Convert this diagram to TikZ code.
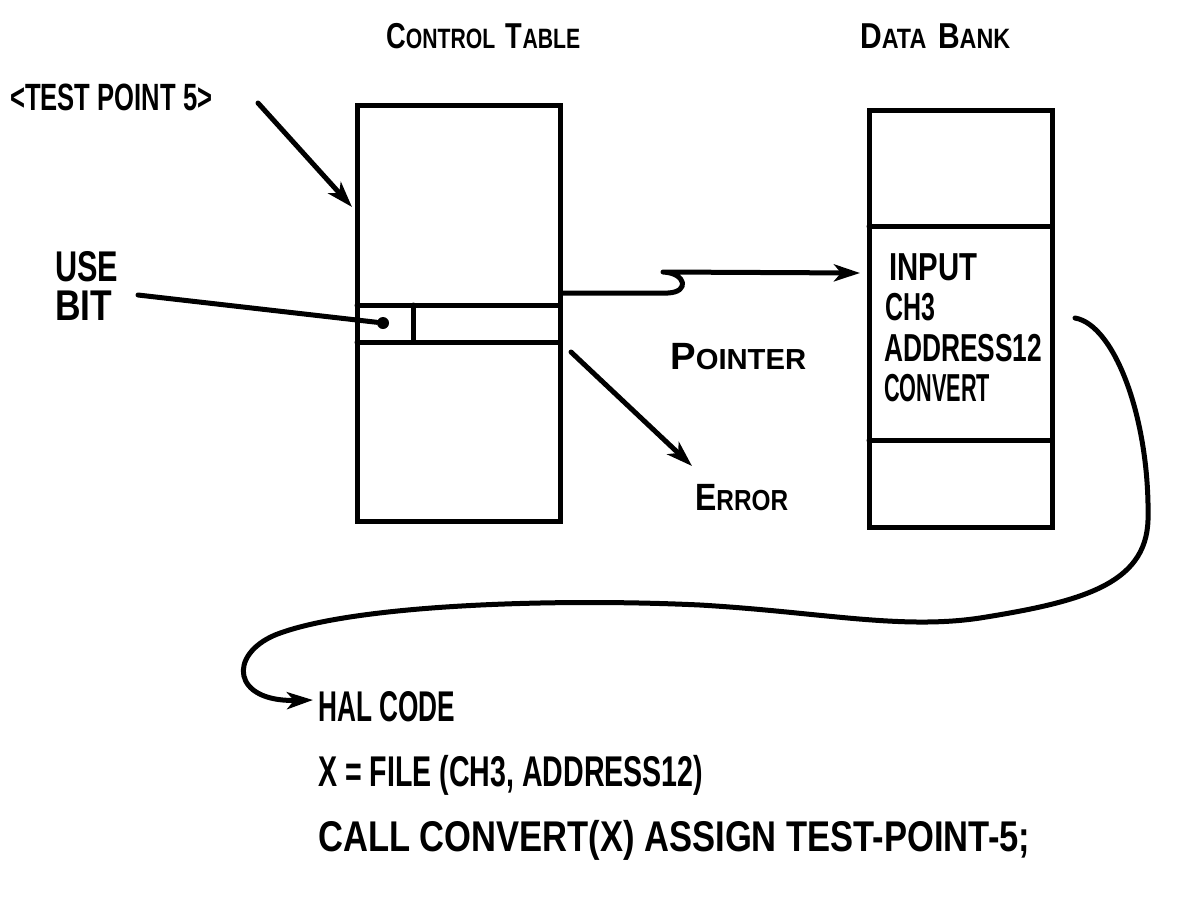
\documentclass[tikz,border=0pt]{standalone}
\usepackage{fontspec}
\usepackage{graphicx}
\setmainfont{Liberation Sans}
\usetikzlibrary{arrows.meta}

% set a text to a given width (pt), keeping its height
\newcommand{\fitw}[2]{\resizebox{#1pt}{\height}{#2}}
% hand-lettered small capitals: large initial, smaller rest
\newcommand{\capsm}[2]{{\fontsize{36}{36}\selectfont #1}{\fontsize{28}{28}\selectfont #2}}

\begin{document}
\begin{tikzpicture}[x=1pt,y=-1pt,
  ln/.style={line width=5pt, line join=round, line cap=round},
  tip/.style={-{Stealth[length=26pt,width=17pt,inset=7pt]}},
  txt/.style={anchor=base west, inner sep=0pt, font=\fontsize{43}{43}\selectfont\bfseries},
  dbtxt/.style={txt, font=\fontsize{39}{39}\selectfont\bfseries},
  ttl/.style={anchor=base west, inner sep=0pt, font=\bfseries},
  box/.style={draw, line width=5pt, inner sep=0pt, fill=none},
  dotmark/.style={circle, fill=black, inner sep=0pt, minimum size=12pt}]

\useasboundingbox (0,0) rectangle (1201,900);
\fill[white] (0,0) rectangle (1201,900);

% headings
\node[ttl] (cthead) at (386,48) {\fitw{194}{\capsm{C}{ONTROL}\hspace{14pt}\capsm{T}{ABLE}}};
\node[ttl] (dbhead) at (860,48) {\fitw{150}{\capsm{D}{ATA}\hspace{14pt}\capsm{B}{ANK}}};

% control table
\node[box, minimum width=203pt, minimum height=416pt] (ctab) at (458.5,313) {};
\draw[ln] (357,305) -- (560,305);
\draw[ln] (357,342) -- (560,342);
\draw[ln] (413,305) -- (413,342);
\node[dotmark] (usebit) at (383,323) {};

% data bank
\node[box, minimum width=183pt, minimum height=417pt] (dbank) at (960.5,318.5) {};
\draw[ln] (869,226) -- (1052,226);
\draw[ln] (869,440) -- (1052,440);
\node[dbtxt] (input) at (889,280) {\fitw{88}{INPUT}};
\node[dbtxt] (chan)  at (885,320) {\fitw{50}{CH3}};
\node[dbtxt] (addr)  at (884,361) {\fitw{158}{ADDRESS12}};
\node[dbtxt] (conv)  at (884,401) {\fitw{106}{CONVERT}};

% side labels
\node[txt, font=\fontsize{38}{38}\selectfont\bfseries] (tp) at (10,110) {\fitw{202}{<TEST POINT 5>}};
\node[txt] (use) at (55,281) {\fitw{63}{USE}};
\node[txt] (bit) at (55,320) {\fitw{57}{BIT}};
\node[ttl] (ptr) at (670,369) {\fitw{136}{{\fontsize{38}{38}\selectfont P}{\fontsize{29}{29}\selectfont OINTER}}};
\node[ttl] (err) at (695,510) {\fitw{93}{{\fontsize{38}{38}\selectfont E}{\fontsize{29}{29}\selectfont RROR}}};

% HAL code
\node[txt] (hal)  at (318,721) {\fitw{137}{HAL CODE}};
\node[txt] (hal2) at (318,786) {\fitw{385}{X = FILE (CH3, ADDRESS12)}};
\node[txt] (hal3) at (318,851) {\fitw{712}{CALL CONVERT(X) ASSIGN TEST-POINT-5;}};

% connector ends
\coordinate (tpfrom) at (258,103);
\coordinate (tpto) at (352,207);
\coordinate (usefrom) at (138,295);
\coordinate (errfrom) at (571,352);
\coordinate (errto) at (692,466);
\coordinate (ptrfrom) at (561,293);
\coordinate (ptrto) at (860,273);
\coordinate (codefrom) at (1075,318);
\coordinate (codeto) at (313,700);

% connectors
\draw[ln, tip] (tpfrom) -- (tpto);
\draw[ln] (usefrom) -- (usebit);
\draw[ln, tip] (errfrom) -- (errto);
\draw[ln, tip] (ptrfrom) -- (668,293)
  .. controls (690,292) and (686,273) .. (663,272) -- (ptrto);
\draw[ln, tip] (codefrom)
  .. controls (1115,325) and (1150,420) .. (1148,520)
  .. controls (1146,585) and (1080,602) .. (980,618)
  .. controls (900,630) and (820,612) .. (700,605)
  .. controls (550,598) and (350,605) .. (275,635)
  .. controls (228,655) and (232,702) .. (codeto);
\end{tikzpicture}
\end{document}
